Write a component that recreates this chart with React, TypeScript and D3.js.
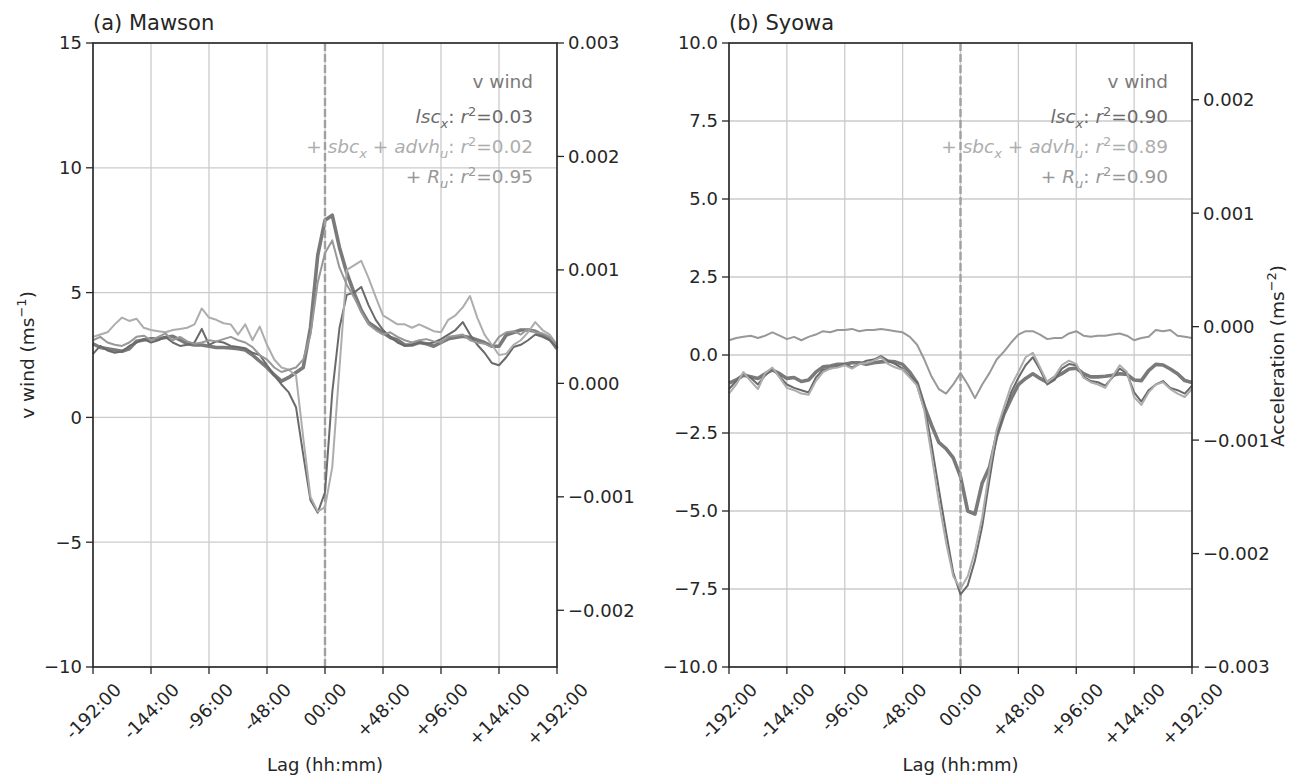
import * as d3 from "d3";
import React from "react";

const W = 1298;
const H = 775;
const FONT = "'DejaVu Sans', sans-serif";

// lag in hours, 6-hourly samples
const lags = d3.range(-192, 193, 6);
const lagTicks = [-192, -144, -96, -48, 0, 48, 96, 144, 192];
const lagLabels = ["-192:00", "-144:00", "-96:00", "-48:00", "00:00", "+48:00", "+96:00", "+144:00", "+192:00"];

// (a) Mawson: v wind (m/s) and accelerations (1e-3 m/s2)
const mawsonVwind = [
  2.95, 2.8, 2.75, 2.7, 2.65, 2.75, 3.05, 3.1, 3.15, 3.15, 3.2, 3.25, 3.1, 2.95, 2.9, 2.9, 2.85, 2.8, 2.8, 2.78, 2.75, 2.7, 2.5, 2.25, 2.0,
  1.7, 1.45, 1.6, 1.8, 2.0, 3.6, 6.5, 7.9,
  8.1, 6.8, 5.8, 5.0, 4.3, 3.8, 3.6, 3.4,
  3.2, 3.1, 2.9, 2.9, 3.0, 2.95, 2.85, 3.0, 3.15, 3.2, 3.25, 3.2, 3.1, 3.0, 2.85, 2.85, 3.3, 3.4, 3.5, 3.5, 3.45, 3.3, 3.15, 2.75,
];
const mawsonLsc = [
  0.26, 0.33, 0.29, 0.27, 0.28, 0.33, 0.36, 0.39, 0.36, 0.38, 0.41, 0.36, 0.33, 0.34, 0.36, 0.48, 0.34, 0.37, 0.36, 0.33, 0.32, 0.31, 0.27, 0.25, 0.16,
  0.07, -0.01, -0.08, -0.21, -0.63, -1.03, -1.14, -0.96,
  -0.08, 0.49, 0.78, 0.8, 0.85, 0.69, 0.56, 0.47,
  0.41, 0.36, 0.33, 0.34, 0.36, 0.35, 0.36, 0.39, 0.43, 0.47, 0.54, 0.43, 0.34, 0.27, 0.18, 0.16, 0.23, 0.32, 0.34, 0.38, 0.43, 0.41, 0.38, 0.32,
];
const mawsonSbcAdvh = [
  0.41, 0.43, 0.45, 0.52, 0.58, 0.55, 0.57, 0.49, 0.47, 0.46, 0.45, 0.47, 0.48, 0.49, 0.52, 0.66, 0.58, 0.56, 0.53, 0.52, 0.43, 0.52, 0.38, 0.5, 0.34,
  0.21, 0.14, 0.12, 0.07, -0.48, -1.0, -1.13, -1.09,
  -0.74, 0.14, 1.0, 1.04, 1.08, 0.93, 0.76, 0.6,
  0.56, 0.52, 0.52, 0.49, 0.52, 0.49, 0.46, 0.45, 0.56, 0.6, 0.67, 0.77, 0.58, 0.43, 0.34, 0.25, 0.26, 0.34, 0.38, 0.45, 0.54, 0.47, 0.43, 0.34,
];
const mawsonRu = [
  0.38, 0.41, 0.36, 0.34, 0.33, 0.36, 0.41, 0.42, 0.38, 0.41, 0.44, 0.38, 0.41, 0.37, 0.35, 0.36, 0.38, 0.37, 0.39, 0.41, 0.38, 0.36, 0.32, 0.25, 0.21,
  0.14, 0.1, 0.12, 0.14, 0.21, 0.43, 0.89, 1.15,
  1.26, 1.02, 0.87, 0.76, 0.63, 0.52, 0.47, 0.43,
  0.45, 0.41, 0.38, 0.36, 0.38, 0.39, 0.37, 0.36, 0.41, 0.42, 0.43, 0.38, 0.36, 0.35, 0.32, 0.41, 0.45, 0.46, 0.43, 0.48, 0.45, 0.44, 0.41, 0.34,
];

// (b) Syowa
const syowaVwind = [
  -0.9, -0.8, -0.65, -0.7, -0.75, -0.6, -0.48, -0.6, -0.75, -0.72, -0.85, -0.8, -0.55, -0.38, -0.35, -0.3, -0.3, -0.25, -0.25, -0.3, -0.25, -0.22, -0.2, -0.22, -0.3,
  -0.55, -0.9, -1.65, -2.25, -2.8, -3.0, -3.3, -3.9,
  -5.0, -5.1, -4.1, -3.6, -2.6, -1.9, -1.4, -0.95,
  -0.75, -0.6, -0.75, -0.88, -0.72, -0.6, -0.45, -0.42, -0.6, -0.7, -0.7, -0.68, -0.65, -0.6, -0.62, -0.8, -0.82, -0.5, -0.3, -0.32, -0.45, -0.6, -0.82, -0.88,
];
const syowaLsc = [
  -0.55, -0.48, -0.41, -0.45, -0.51, -0.43, -0.37, -0.44, -0.51, -0.54, -0.56, -0.58, -0.45, -0.38, -0.37, -0.35, -0.33, -0.36, -0.33, -0.3, -0.29, -0.26, -0.3, -0.33, -0.37,
  -0.44, -0.49, -0.69, -1.04, -1.43, -1.81, -2.17, -2.36,
  -2.28, -2.06, -1.76, -1.35, -0.96, -0.77, -0.58, -0.45,
  -0.34, -0.27, -0.38, -0.51, -0.47, -0.37, -0.33, -0.34, -0.44, -0.48, -0.49, -0.52, -0.45, -0.37, -0.41, -0.58, -0.66, -0.56, -0.51, -0.48, -0.54, -0.56, -0.59, -0.52,
];
const syowaSbcAdvh = [
  -0.59, -0.51, -0.4, -0.48, -0.55, -0.41, -0.36, -0.45, -0.54, -0.56, -0.59, -0.6, -0.48, -0.4, -0.37, -0.36, -0.34, -0.37, -0.33, -0.32, -0.3, -0.27, -0.33, -0.36, -0.38,
  -0.45, -0.52, -0.74, -1.13, -1.54, -1.9, -2.2, -2.31,
  -2.2, -1.98, -1.68, -1.26, -0.91, -0.71, -0.52, -0.4,
  -0.27, -0.23, -0.36, -0.49, -0.44, -0.34, -0.3, -0.33, -0.45, -0.49, -0.51, -0.54, -0.44, -0.34, -0.4, -0.62, -0.69, -0.58, -0.51, -0.49, -0.55, -0.59, -0.62, -0.55,
];
const syowaRu = [
  -0.12, -0.1, -0.09, -0.08, -0.1, -0.08, -0.05, -0.08, -0.11, -0.09, -0.12, -0.09, -0.07, -0.04, -0.05, -0.03, -0.03, -0.02, -0.04, -0.03, -0.03, -0.02, -0.03, -0.04, -0.05,
  -0.09, -0.16, -0.29, -0.44, -0.55, -0.59, -0.51, -0.41,
  -0.51, -0.63, -0.51, -0.41, -0.29, -0.22, -0.14, -0.07,
  -0.04, -0.04, -0.07, -0.11, -0.1, -0.1, -0.06, -0.04, -0.08, -0.09, -0.08, -0.08, -0.07, -0.06, -0.08, -0.12, -0.1, -0.09, -0.03, -0.04, -0.03, -0.08, -0.09, -0.1,
];

const mawsonR2 = ["0.03", "0.02", "0.95"];
const syowaR2 = ["0.90", "0.89", "0.90"];

const C_VWIND = "#7a7a7a";
const C_LSC = "#6a6a6a";
const C_SBC = "#adadad";
const C_RU = "#989898";
const GRID = "#cbcbcb";
const INK = "#262626";

const minus = (s: string) => s.replace(/-/g, "\u2212");

// rough DejaVu Sans advance widths (em)
function textW(s: string, fs: number) {
  let w = 0;
  for (const ch of s) {
    if (ch === "+") w += 0.838;
    else if (ch === "-") w += 0.361;
    else if (ch === ":") w += 0.337;
    else w += 0.636;
  }
  return w * fs;
}

type PanelProps = {
  title: string;
  left: number;
  right: number;
  top: number;
  bottom: number;
  yLDomain: [number, number];
  yLTicks: number[];
  yLFmt: (v: number) => string;
  yRDomain: [number, number];
  yRTicks: number[];
  vwind: number[];
  lsc: number[];
  sbc: number[];
  ru: number[];
  r2: string[];
};

function Panel(p: PanelProps) {
  const x = d3.scaleLinear().domain([-192, 192]).range([p.left, p.right]);
  const yL = d3.scaleLinear().domain(p.yLDomain).range([p.bottom, p.top]);
  const yR = d3.scaleLinear().domain(p.yRDomain).range([p.bottom, p.top]);
  const lineL = d3.line<number>().x((_, i) => x(lags[i])).y((d) => yL(d));
  const lineR = d3.line<number>().x((_, i) => x(lags[i])).y((d) => yR(d));
  const fs = 18;
  const lfs = 18.5;
  const sub = 13;
  const lx = p.right - 24;
  const ly = p.top + 45;

  return (
    <g fontFamily={FONT}>
      {lagTicks.map((t) => (
        <line key={"gx" + t} x1={x(t)} x2={x(t)} y1={p.top} y2={p.bottom} stroke={GRID} strokeWidth={1.3} />
      ))}
      {p.yLTicks.map((t) => (
        <line key={"gy" + t} x1={p.left} x2={p.right} y1={yL(t)} y2={yL(t)} stroke={GRID} strokeWidth={1.3} />
      ))}
      <path d={lineL(p.vwind) || ""} fill="none" stroke={C_VWIND} strokeWidth={3.6} strokeLinejoin="round" />
      <line x1={x(0)} x2={x(0)} y1={p.top} y2={p.bottom} stroke="#a0a0a0" strokeWidth={2.4} strokeDasharray="8,3" />
      <path d={lineR(p.lsc) || ""} fill="none" stroke={C_LSC} strokeWidth={2} strokeLinejoin="round" />
      <path d={lineR(p.sbc) || ""} fill="none" stroke={C_SBC} strokeWidth={2} strokeLinejoin="round" />
      <path d={lineR(p.ru) || ""} fill="none" stroke={C_RU} strokeWidth={2} strokeLinejoin="round" />

      {/* legend */}
      <g fontSize={lfs} textAnchor="end">
        <text x={lx} y={ly} fill={C_VWIND}>v wind</text>
        <text x={lx} y={ly + 35} fill={C_LSC}>
          <tspan fontStyle="italic">lsc</tspan>
          <tspan fontStyle="italic" fontSize={sub} dy={5}>x</tspan>
          <tspan dy={-5}>: </tspan>
          <tspan fontStyle="italic">r</tspan>
          <tspan fontSize={sub} dy={-7}>2</tspan>
          <tspan dy={7}>={p.r2[0]}</tspan>
        </text>
        <text x={lx} y={ly + 65} fill={C_SBC}>
          <tspan>+ </tspan>
          <tspan fontStyle="italic">sbc</tspan>
          <tspan fontStyle="italic" fontSize={sub} dy={5}>x</tspan>
          <tspan dy={-5}> + </tspan>
          <tspan fontStyle="italic">advh</tspan>
          <tspan fontStyle="italic" fontSize={sub} dy={5}>u</tspan>
          <tspan dy={-5}>: </tspan>
          <tspan fontStyle="italic">r</tspan>
          <tspan fontSize={sub} dy={-7}>2</tspan>
          <tspan dy={7}>={p.r2[1]}</tspan>
        </text>
        <text x={lx} y={ly + 95} fill={C_RU}>
          <tspan>+ </tspan>
          <tspan fontStyle="italic">R</tspan>
          <tspan fontStyle="italic" fontSize={sub} dy={5}>u</tspan>
          <tspan dy={-5}>: </tspan>
          <tspan fontStyle="italic">r</tspan>
          <tspan fontSize={sub} dy={-7}>2</tspan>
          <tspan dy={7}>={p.r2[2]}</tspan>
        </text>
      </g>

      <rect x={p.left} y={p.top} width={p.right - p.left} height={p.bottom - p.top} fill="none" stroke={INK} strokeWidth={1.6} />

      {/* left axis */}
      {p.yLTicks.map((t) => (
        <g key={"yl" + t}>
          <line x1={p.left - 7} x2={p.left} y1={yL(t)} y2={yL(t)} stroke={INK} strokeWidth={1.3} />
          <text x={p.left - 11} y={yL(t)} dy="0.36em" textAnchor="end" fontSize={fs} fill={INK}>
            {p.yLFmt(t)}
          </text>
        </g>
      ))}
      {/* right axis */}
      {p.yRTicks.map((t) => (
        <g key={"yr" + t}>
          <line x1={p.right} x2={p.right + 7} y1={yR(t)} y2={yR(t)} stroke={INK} strokeWidth={1.3} />
          <text x={p.right + 11} y={yR(t)} dy="0.36em" fontSize={fs} fill={INK}>
            {minus((t / 1000).toFixed(3))}
          </text>
        </g>
      ))}
      {/* bottom axis */}
      {lagTicks.map((t, i) => {
        const w = textW(lagLabels[i], fs);
        const bh = (w + fs) * 0.7071;
        const cy = p.bottom + 13 + bh / 2;
        return (
          <g key={"xb" + t}>
            <line x1={x(t)} x2={x(t)} y1={p.bottom} y2={p.bottom + 7} stroke={INK} strokeWidth={1.3} />
            <text
              transform={`translate(${x(t)},${cy}) rotate(-45)`}
              textAnchor="middle"
              dominantBaseline="central"
              fontSize={fs}
              fill={INK}
            >
              {lagLabels[i]}
            </text>
          </g>
        );
      })}
      <text x={(p.left + p.right) / 2} y={H - 4} textAnchor="middle" fontSize={fs} fill={INK}>
        Lag (hh:mm)
      </text>
      <text x={p.left} y={30} fontSize={21} fill={INK}>
        {p.title}
      </text>
    </g>
  );
}

export default function App() {
  return (
    <svg width={W} height={H} style={{ position: "absolute", left: 0, top: 0, background: "#fff" }}>
      <rect width={W} height={H} fill="#fff" />
      <Panel
        title="(a) Mawson"
        left={93}
        right={557}
        top={43}
        bottom={667}
        yLDomain={[-10, 15]}
        yLTicks={[-10, -5, 0, 5, 10, 15]}
        yLFmt={(v) => minus(String(v))}
        yRDomain={[-2.5, 3]}
        yRTicks={[-2, -1, 0, 1, 2, 3]}
        vwind={mawsonVwind}
        lsc={mawsonLsc}
        sbc={mawsonSbcAdvh}
        ru={mawsonRu}
        r2={mawsonR2}
      />
      <Panel
        title="(b) Syowa"
        left={729}
        right={1192}
        top={43}
        bottom={667}
        yLDomain={[-10, 10]}
        yLTicks={[-10, -7.5, -5, -2.5, 0, 2.5, 5, 7.5, 10]}
        yLFmt={(v) => minus(v.toFixed(1))}
        yRDomain={[-3, 2.5]}
        yRTicks={[-3, -2, -1, 0, 1, 2]}
        vwind={syowaVwind}
        lsc={syowaLsc}
        sbc={syowaSbcAdvh}
        ru={syowaRu}
        r2={syowaR2}
      />
      <text transform="translate(34,355) rotate(-90)" textAnchor="middle" fontFamily={FONT} fontSize={18.5} fill={INK}>
        v wind (ms<tspan fontSize={13} dy={-8}>−1</tspan>
        <tspan dy={8}>)</tspan>
      </text>
      <text transform="translate(1284,356) rotate(-90)" textAnchor="middle" fontFamily={FONT} fontSize={18.5} fill={INK}>
        Acceleration (ms<tspan fontSize={13} dy={-8}>−2</tspan>
        <tspan dy={8}>)</tspan>
      </text>
    </svg>
  );
}
